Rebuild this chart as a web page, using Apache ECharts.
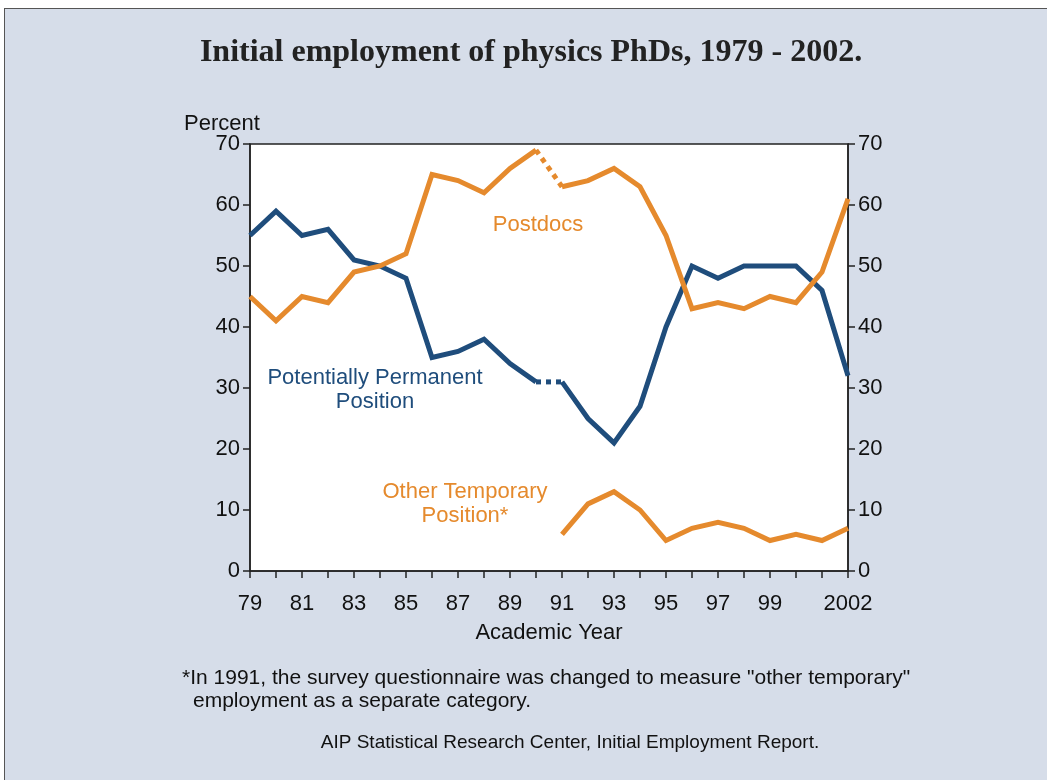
<!DOCTYPE html>
<html>
<head>
<meta charset="utf-8">
<script src="https://cdn.jsdelivr.net/npm/echarts@6/dist/echarts.min.js"></script>
<style>
  html, body { margin: 0; padding: 0; background: #ffffff; }
  #frame {
    position: absolute; left: 4px; top: 8px; width: 1043px; height: 772px;
    background: #d6dde9; border-top: 1.5px solid #555; border-left: 1.5px solid #555;
    box-sizing: border-box;
  }
  #chart { position: absolute; left: 0; top: 0; width: 1047px; height: 780px; }
</style>
</head>
<body>
<div id="frame"></div>
<div id="chart"></div>
<script>
// academic years, 1979 - 2002
const years = ['79', '80', '81', '82', '83', '84', '85', '86', '87', '88', '89', '90',
               '91', '92', '93', '94', '95', '96', '97', '98', '99', '2000', '01', '2002'];
// percent of new PhDs
const permanent = [55, 59, 55, 56, 51, 50, 48, 35, 36, 38, 34, 31,
                   31, 25, 21, 27, 40, 50, 48, 50, 50, 50, 46, 32];
const postdocs = [45, 41, 45, 44, 49, 50, 52, 65, 64, 62, 66, 69,
                  63, 64, 66, 63, 55, 43, 44, 43, 45, 44, 49, 61];
const otherTemp = [null, null, null, null, null, null, null, null, null, null, null, null,
                   6, 11, 13, 10, 5, 7, 8, 7, 5, 6, 5, 7];
const yTicks = [0, 10, 20, 30, 40, 50, 60, 70];
const shownYears = ['79', '81', '83', '85', '87', '89', '91', '93', '95', '97', '99', '2002'];

// survey changed between 1990 and 1991 -> that step is drawn dotted
const breakAt = years.indexOf('90');
const before = arr => arr.map((v, i) => i <= breakAt ? v : null);
const gap = arr => arr.map((v, i) => (i === breakAt || i === breakAt + 1) ? v : null);
const after = arr => arr.map((v, i) => i >= breakAt + 1 ? v : null);

const blue = '#1f4d7c';
const orange = '#e58a2d';
const font = 'Liberation Sans, Arial, sans-serif';

function line(data, color, dotted) {
  return {
    type: 'line', data: data, symbol: 'none', connectNulls: false, silent: true,
    lineStyle: { color: color, width: 5, type: dotted ? [5, 5] : 'solid', cap: 'butt', join: 'miter' }
  };
}

function label(text, x, y, color, size, align) {
  return { type: 'text', x: x, y: y + 2, silent: true,
    style: { text: text, fill: color, font: size + 'px ' + font, align: align || 'center', verticalAlign: 'middle' } };
}

const chart = echarts.init(document.getElementById('chart'));
const yAxisCommon = {
  type: 'value', min: yTicks[0], max: yTicks[yTicks.length - 1], interval: 10,
  splitLine: { show: false },
  axisLine: { show: true, lineStyle: { color: '#222', width: 1.5 } },
  axisTick: { show: true, length: 7, lineStyle: { color: '#222', width: 1.5 } },
  axisLabel: { color: '#111', fontSize: 22, fontFamily: font, margin: 10 }
};
chart.setOption({
  animation: false,
  backgroundColor: 'transparent',
  grid: { left: 250, right: 199, top: 144, bottom: 209, show: true, backgroundColor: '#ffffff',
          borderColor: '#222', borderWidth: 1.5 },
  xAxis: {
    type: 'category', data: years, boundaryGap: false,
    name: 'Academic Year', nameLocation: 'middle', nameGap: 51,
    nameTextStyle: { fontFamily: font, fontSize: 22, color: '#111' },
    axisLine: { lineStyle: { color: '#222', width: 1.5 } },
    axisTick: { interval: 0, length: 7, inside: false, lineStyle: { color: '#222', width: 1.5 } },
    axisLabel: {
      interval: 0, color: '#111', fontSize: 22, fontFamily: font, margin: 22,
      formatter: v => shownYears.includes(v) ? v : ''
    }
  },
  yAxis: [
    Object.assign({}, yAxisCommon, { position: 'left' }),
    Object.assign({}, yAxisCommon, { position: 'right' })
  ],
  series: [
    line(before(permanent), blue, false),
    line(gap(permanent), blue, true),
    line(after(permanent), blue, false),
    line(before(postdocs), orange, false),
    line(gap(postdocs), orange, true),
    line(after(postdocs), orange, false),
    line(otherTemp, orange, false)
  ],
  graphic: [
    { type: 'text', x: 531, y: 53, silent: true,
      style: { text: 'Initial employment of physics PhDs, 1979 - 2002.', fill: '#222',
        font: 'bold 32px Liberation Serif, Times New Roman, serif', align: 'center', verticalAlign: 'middle' } },
    label('Percent', 222, 122, '#111', 22),
    label('Postdocs', 538, 223, orange, 22),
    label('Potentially Permanent', 375, 376, blue, 22),
    label('Position', 375, 400, blue, 22),
    label('Other Temporary', 465, 490, orange, 22),
    label('Position*', 465, 514, orange, 22),
    label('*In 1991, the survey questionnaire was changed to measure "other temporary"', 182, 676, '#111', 21, 'left'),
    label('employment as a separate category.', 193, 699, '#111', 21, 'left'),
    label('AIP Statistical Research Center, Initial Employment Report.', 570, 741, '#111', 19)
  ]
});
</script>
</body>
</html>
